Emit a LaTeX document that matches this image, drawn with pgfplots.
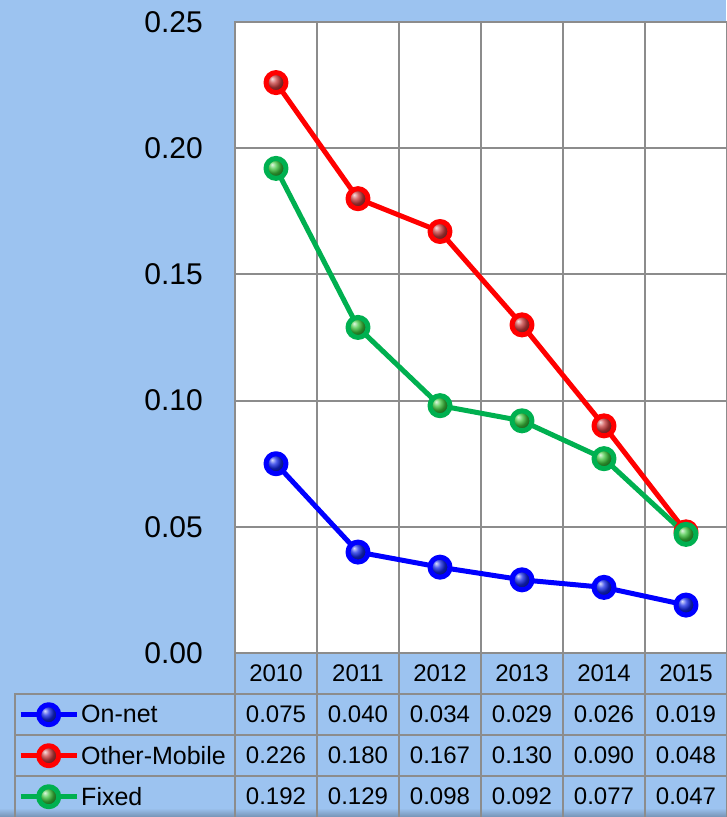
\documentclass[border=0pt]{standalone}
\usepackage{pgfplots}
\pgfplotsset{compat=1.18}
\usepackage{fontspec}
\setmainfont{Liberation Sans}
\definecolor{bg}{RGB}{156,195,240}
\definecolor{gridc}{RGB}{140,140,140}
\definecolor{cblue}{RGB}{0,0,255}
\definecolor{cred}{RGB}{255,0,0}
\definecolor{cgreen}{RGB}{0,176,80}
\definecolor{bblue}{RGB}{20,40,230}
\definecolor{bred}{RGB}{200,60,60}
\definecolor{bgreen}{RGB}{60,195,60}
\begin{document}
\begin{tikzpicture}
\fill[bg] (0pt,0pt) rectangle (726pt,-817pt);
\shade[top color=bg, bottom color=bg!75!black] (0pt,-808pt) rectangle (726pt,-817pt);
\begin{axis}[
  at={(235pt,-653pt)}, anchor=south west,
  scale only axis, width=492pt, height=631pt,
  xmin=-0.5, xmax=5.5, ymin=0, ymax=0.25,
  axis background/.style={fill=white},
  axis line style={draw=gridc, line width=2pt},
  xtick={0,1,2,3,4,5},
  xticklabels={2010,2011,2012,2013,2014,2015},
  minor xtick={-0.5,0.5,1.5,2.5,3.5,4.5,5.5},
  xminorgrids,
  ytick={0,0.05,0.1,0.15,0.2,0.25},
  ymajorgrids,
  grid style={draw=gridc, line width=2pt},
  minor grid style={draw=gridc, line width=2pt},
  major tick length=0pt, minor tick length=0pt,
  /pgf/number format/assume math mode=true,
  yticklabel style={/pgf/number format/fixed, /pgf/number format/fixed zerofill, /pgf/number format/precision=2,
    font=\fontsize{30}{36}\selectfont, anchor=east, inner sep=0pt, xshift=-32pt},
  xticklabel style={font=\fontsize{24}{28}\selectfont, anchor=center, inner sep=0pt, yshift=-20.5pt},
  legend style={at={(axis description cs:-0.441,-0.065)}, anchor=north west,
    draw=none, fill=none, font=\fontsize{25}{29}\selectfont,
    row sep=0pt, column sep=2pt, inner sep=0pt,
    nodes={inner sep=0pt, minimum height=41pt}},
  legend cell align=left,
  legend image code/.code={
    \draw[#1, mark=none] (0pt,0pt) -- (56pt,0pt);
    \draw[#1] plot[only marks] coordinates {(28pt,0pt)};
  },
  every axis plot/.append style={line width=5pt, line join=round, mark=ball, mark size=10pt},
]
\addplot[cblue, mark options={ball color=bblue}] coordinates {(0,0.075) (1,0.040) (2,0.034) (3,0.029) (4,0.026) (5,0.019)};
\addlegendentry{On-net}
\addplot[cred, mark options={ball color=bred}] coordinates {(0,0.226) (1,0.180) (2,0.167) (3,0.130) (4,0.090) (5,0.048)};
\addlegendentry{Other-Mobile}
\addplot[cgreen, mark options={ball color=bgreen}] coordinates {(0,0.192) (1,0.129) (2,0.098) (3,0.092) (4,0.077) (5,0.047)};
\addlegendentry{Fixed}
\end{axis}
\begin{scope}[gridc, line width=2pt]
\foreach \x in {235,317,399,481,563,645,727} \draw (\x pt,-653pt) -- (\x pt,-817pt);
\foreach \y in {694,735,776} \draw (15pt,-\y pt) -- (727pt,-\y pt);
\draw (15pt,-693pt) -- (15pt,-817pt);
\end{scope}
\begin{scope}[every node/.style={font=\fontsize{24}{28}\selectfont, inner sep=0pt}]
\foreach \v [count=\i from 0] in {0.075,0.040,0.034,0.029,0.026,0.019}
  \node at ({(276+82*\i)*1pt},-714.5pt) {\v};
\foreach \v [count=\i from 0] in {0.226,0.180,0.167,0.130,0.090,0.048}
  \node at ({(276+82*\i)*1pt},-755.5pt) {\v};
\foreach \v [count=\i from 0] in {0.192,0.129,0.098,0.092,0.077,0.047}
  \node at ({(276+82*\i)*1pt},-796.5pt) {\v};
\end{scope}
\pgfresetboundingbox
\useasboundingbox (0pt,0pt) rectangle (726pt,-817pt);
\end{tikzpicture}
\end{document}
